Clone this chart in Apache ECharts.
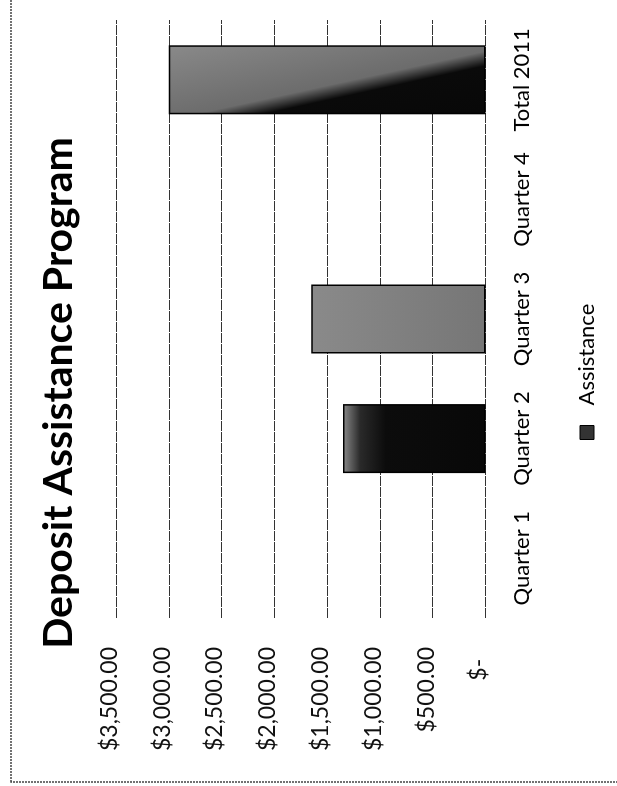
<!DOCTYPE html>
<html>
<head>
<meta charset="utf-8">
<script src="https://cdn.jsdelivr.net/npm/echarts@6/dist/echarts.min.js"></script>
<style>
  html, body { margin:0; padding:0; background:#fff; }
  #wrap { position:absolute; left:0; top:0; width:617px; height:786px; overflow:hidden; background:#fff; }
  #chart { position:absolute; left:0; top:786px; width:786px; height:617px;
           transform-origin:0 0; transform:rotate(-90deg); }
</style>
</head>
<body>
<div id="wrap"><div id="chart"></div></div>
<script>
// ---- data ----
const titleText = 'Deposit Assistance Program';
const categories = ['Quarter 1', 'Quarter 2', 'Quarter 3', 'Quarter 4', 'Total 2011'];
const seriesName = 'Assistance';
const assistance = [0, 1350, 1650, 0, 3000];
const axisMin = 0, axisMax = 3500, axisStep = 500;

const FONT = 'Lato';
const fills = [
  '#111',
  { type:'linear', x:0, y:0, x2:0, y2:1, colorStops:[
      {offset:0, color:'#8a8a8a'}, {offset:0.12, color:'#2a2a2a'}, {offset:0.3, color:'#0c0c0c'}, {offset:1, color:'#080808'}]},
  { type:'linear', x:0, y:0, x2:0, y2:1, colorStops:[
      {offset:0, color:'#8a8a8a'}, {offset:1, color:'#767676'}]},
  '#111',
  { type:'linear', x:-1.26, y:0.70, x2:2.12, y2:0.54, colorStops:[
      {offset:0, color:'#050505'}, {offset:0.47, color:'#0a0a0a'},
      {offset:0.53, color:'#6c6c6c'}, {offset:1, color:'#999999'}]}
];

const chart = echarts.init(document.getElementById('chart'), null, {renderer:'canvas'});
chart.setOption({
  animation:false,
  backgroundColor:'#fff',
  title:{
    text:titleText, left:'center', top:33,
    textStyle:{ fontFamily:FONT, fontWeight:'bold', fontSize:41, color:'#000' }
  },
  legend:{
    data:[seriesName], bottom:14, left:341,
    icon:'rect', itemWidth:14, itemHeight:14,
    textStyle:{ fontFamily:FONT, fontSize:22, color:'#000', padding:[0,0,0,15] },
    itemStyle:{ color:'#333', borderColor:'#000', borderWidth:1 }
  },
  grid:{ left:168, right:20, top:116, bottom:131.5, containLabel:false },
  xAxis:{
    type:'category', data:categories,
    axisLine:{show:false}, axisTick:{show:false},
    axisLabel:{ fontFamily:FONT, fontSize:22, color:'#000', margin:25, interval:0 }
  },
  yAxis:{
    type:'value', min:axisMin, max:axisMax, interval:axisStep,
    axisLine:{show:false}, axisTick:{show:false},
    splitLine:{ lineStyle:{ color:'#333', width:1.2, type:[10,1] } },
    axisLabel:{
      fontFamily:FONT, fontSize:23, color:'#111', margin:29,
      verticalAlign:'bottom', lineHeight:13,
      formatter:v => v === 0 ? '$-  ' :
        '$' + v.toLocaleString('en-US', {minimumFractionDigits:2, maximumFractionDigits:2})
    }
  },
  graphic:[{
    type:'rect', silent:true, z:-1,
    shape:{ x:4, y:11, width:820, height:640 },
    style:{ fill:null, stroke:'#444', lineWidth:1.5, lineDash:[2,1] }
  }],
  series:[{
    type:'bar', name:seriesName, barWidth:69,
    data:assistance.map((v,i) => ({ value:v,
      itemStyle:{ color:fills[i], borderWidth: v === 0 ? 0 : 1.5 } })),
    itemStyle:{ borderColor:'#000', borderWidth:1.5 }
  }]
});
</script>
</body>
</html>
